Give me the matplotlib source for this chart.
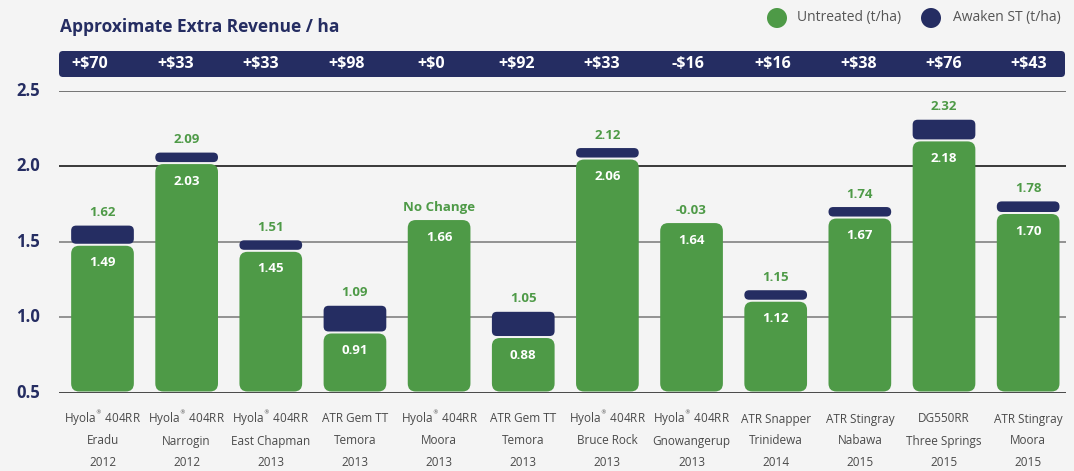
import numpy as np
import matplotlib
matplotlib.use("Agg")
from matplotlib import pyplot as plt
from matplotlib.patches import FancyBboxPatch, Circle
from matplotlib.transforms import blended_transform_factory

# ---- data ----
varieties = ["Hyola$^{{}^{®}}$ 404RR", "Hyola$^{{}^{®}}$ 404RR", "Hyola$^{{}^{®}}$ 404RR", "ATR Gem TT",
             "Hyola$^{{}^{®}}$ 404RR", "ATR Gem TT", "Hyola$^{{}^{®}}$ 404RR", "Hyola$^{{}^{®}}$ 404RR",
             "ATR Snapper", "ATR Stingray", "DG550RR", "ATR Stingray"]
sites = ["Eradu", "Narrogin", "East Chapman", "Temora", "Moora", "Temora",
         "Bruce Rock", "Gnowangerup", "Trinidewa", "Nabawa", "Three Springs", "Moora"]
years = ["2012", "2012", "2013", "2013", "2013", "2013",
         "2013", "2013", "2014", "2015", "2015", "2015"]
untreated = [1.49, 2.03, 1.45, 0.91, 1.66, 0.88, 2.06, 1.64, 1.12, 1.67, 2.18, 1.70]
awaken = [1.62, 2.09, 1.51, 1.09, 1.66, 1.05, 2.12, 1.61, 1.15, 1.74, 2.32, 1.78]
top_labels = ["1.62", "2.09", "1.51", "1.09", "No Change", "1.05",
              "2.12", "-0.03", "1.15", "1.74", "2.32", "1.78"]
revenue = ["+$70", "+$33", "+$33", "+$98", "+$0", "+$92",
           "+$33", "-$16", "+$16", "+$38", "+$76", "+$43"]
yticks = [0.5, 1.0, 1.5, 2.0, 2.5]

GREEN = "#4e9a47"
NAVY = "#252d62"
BG = "#f4f4f4"
BOLD = "Open Sans"
plt.rcParams["font.family"] = ["Open Sans", "DejaVu Sans"]

W, H = 1074, 471
fig = plt.figure(figsize=(W / 100, H / 100), dpi=100)
fig.patch.set_facecolor(BG)

# overlay axes in pixel coords for title, legend and banner
ov = fig.add_axes([0, 0, 1, 1], zorder=0)
ov.set_xlim(0, W)
ov.set_ylim(H, 0)
ov.axis("off")

# main axes: gridlines from x=59 to 1066 px, y 0.5 at 393 px, 2.5 at 90.5 px
ax_left, ax_right = 59, 1066
ax_top, ax_bot = 90.5, 393
ax = fig.add_axes([ax_left / W, 1 - ax_bot / H, (ax_right - ax_left) / W, (ax_bot - ax_top) / H], zorder=1)
ax.set_facecolor("none")
x0_px, step_px = 102.5, 84.15
ax.set_xlim((ax_left - x0_px) / step_px, (ax_right - x0_px) / step_px)
ax.set_ylim(0.5, 2.5)
for s in ax.spines.values():
    s.set_visible(False)
ax.set_xticks([])
ax.set_yticks([])

xlim, ylim = ax.get_xlim(), ax.get_ylim()
xpp = (xlim[1] - xlim[0]) / (ax_right - ax_left)   # data per px
ypp = (ylim[1] - ylim[0]) / (ax_bot - ax_top)


def rbar(x, y0, y1, w, r_px, color):
    h_px = (y1 - y0) / ypp
    r = min(r_px, h_px / 2 - 0.01)
    p = FancyBboxPatch((x - w / 2, y0), w, y1 - y0,
                       boxstyle=f"round,pad=0,rounding_size={r * xpp}",
                       mutation_aspect=ypp / xpp, fc=color, ec="none", zorder=3)
    ax.add_patch(p)


# gridlines + y labels
grid_colors = {0.5: "#3a3a3a", 1.0: "#8a8a8a", 1.5: "#8a8a8a", 2.0: "#2a2a2a", 2.5: "#6a6a6a"}
for t in yticks:
    ax.axhline(t, color=grid_colors[t], lw=1.3, zorder=1)
    ax.text(xlim[0] - 43 * xpp, t, f"{t:.1f}", ha="left", va="center", color=NAVY,
            fontsize=12, fontweight="bold", family=BOLD, clip_on=False)

bw = 62.7 * xpp
gap = 2 * ypp
x = np.arange(len(untreated))
for i in x:
    g_top = untreated[i] - 2.5 * ypp
    rbar(i, 0.5 + 1.5 * ypp, g_top, bw, 8, GREEN)
    ax.text(i, g_top - 17 * ypp, f"{untreated[i]:.2f}", ha="center", va="center",
            color="white", fontsize=9.5, fontweight="bold", family=BOLD, zorder=4)
    if awaken[i] > untreated[i]:
        c0 = g_top + gap
        c1 = max(awaken[i] - 2 * ypp, c0 + 9.5 * ypp)
        rbar(i, c0, c1, bw, 5, NAVY)
        lab_y = c1 + 13 * ypp
    else:
        lab_y = g_top + 13 * ypp
    ax.text(i, lab_y, top_labels[i], ha="center", va="center", color=GREEN,
            fontsize=9.5, fontweight="bold", family=BOLD, zorder=4)

# x labels (three lines)
btrans = blended_transform_factory(ax.transData, ov.transData)
for i in x:
    for j, s in enumerate([varieties[i], sites[i], years[i]]):
        ax.text(i, 419 + 22 * j, s, transform=btrans, ha="center", va="center",
                color="#4a4a4a", fontsize=8.5, clip_on=False)

# revenue banner
ov.add_patch(FancyBboxPatch((59, 51), 1065 - 59, 26, boxstyle="round,pad=0,rounding_size=4",
                            fc=NAVY, ec="none"))
rev_pos = -0.149 + 1.0145 * x
for i in x:
    ax.text(rev_pos[i], 64, revenue[i], transform=btrans, ha="center", va="center",
            color="white", fontsize=11.5, fontweight="bold", family=BOLD, clip_on=False)

# title
ov.text(60, 27, "Approximate Extra Revenue / ha", ha="left", va="center", color=NAVY,
        fontsize=12.5, fontweight="bold", family=BOLD)

# legend
ov.add_patch(Circle((777, 18), 10, fc=GREEN, ec="none"))
ov.text(797, 18, "Untreated (t/ha)", ha="left", va="center", color="#555555", fontsize=10)
ov.add_patch(Circle((931, 18), 10, fc=NAVY, ec="none"))
ov.text(953, 18, "Awaken ST (t/ha)", ha="left", va="center", color="#555555", fontsize=10)

fig.savefig("out.png", dpi=100, facecolor=BG)
